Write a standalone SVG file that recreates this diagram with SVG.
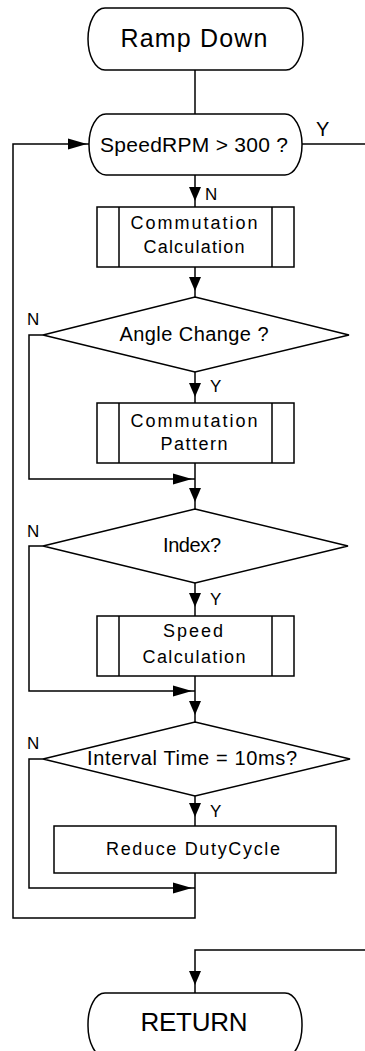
<svg xmlns="http://www.w3.org/2000/svg" xmlns:xlink="http://www.w3.org/1999/xlink" width="365" height="1051" viewBox="0 0 365 1051">
<style>
.s{fill:#fff;stroke:#000;stroke-width:1.5}
.l{fill:none;stroke:#000;stroke-width:1.5}
.t{font-family:"Liberation Sans",Arial,sans-serif;fill:#000;text-anchor:middle}
.lb{font-family:"Liberation Sans",Arial,sans-serif;fill:#000;font-size:17px}
.ah{fill:#000}
</style>
<defs>
<path id="ad" d="M-6,-14 L6,-14 L0,0 Z"/>
<path id="ar" d="M-19,-5.5 L0,0 L-19,5.5 Z"/>
</defs>
<rect width="365" height="1051" fill="#fff"/>
<g id="connectors">
<path class="l" d="M195,70 V114"/>
<path class="l" d="M195,175 V207"/>
<path class="l" d="M195,267 V297"/>
<path class="l" d="M195,372 V403"/>
<path class="l" d="M195,463 V509"/>
<path class="l" d="M43,335 H29 V479 H195"/>
<path class="l" d="M195,583 V616"/>
<path class="l" d="M195,676 V722"/>
<path class="l" d="M43,546 H29 V691 H195"/>
<path class="l" d="M195,796 V826"/>
<path class="l" d="M43,759 H29 V888 H195"/>
<path class="l" d="M195,873 V918 H13 V144 H89"/>
<path class="l" d="M302,144 H365"/>
<path class="l" d="M365,950 H195 V993"/>
<use class="ah" xlink:href="#ar" x="87" y="144"/>
<use class="ah" xlink:href="#ad" x="195" y="201"/>
<use class="ah" xlink:href="#ad" x="195" y="291"/>
<use class="ah" xlink:href="#ad" x="195" y="397"/>
<use class="ah" xlink:href="#ar" x="192" y="479"/>
<use class="ah" xlink:href="#ad" x="195" y="502"/>
<use class="ah" xlink:href="#ad" x="195" y="607"/>
<use class="ah" xlink:href="#ar" x="192" y="691"/>
<use class="ah" xlink:href="#ad" x="195" y="715"/>
<use class="ah" xlink:href="#ad" x="195" y="817"/>
<use class="ah" xlink:href="#ar" x="192" y="888"/>
<use class="ah" xlink:href="#ad" x="195" y="985"/>
<text class="lb" x="316" y="136" style="font-size:20px">Y</text>
<text class="lb" x="205" y="200">N</text>
<text class="lb" x="27" y="325">N</text>
<text class="lb" x="210" y="392">Y</text>
<text class="lb" x="27" y="537">N</text>
<text class="lb" x="210" y="605">Y</text>
<text class="lb" x="27" y="749">N</text>
<text class="lb" x="210" y="817">Y</text>
</g>
<g id="start">
<rect class="s" x="88" y="8" width="215" height="62" rx="17" ry="31"/>
<text class="t" x="194" y="47" font-size="25" textLength="147" lengthAdjust="spacing">Ramp Down</text>
</g>
<g id="speed-check">
<rect class="s" x="89" y="114" width="213" height="61" rx="17" ry="30"/>
<text class="t" x="194" y="152" font-size="21" textLength="188" lengthAdjust="spacing">SpeedRPM &gt; 300 ?</text>
</g>
<g id="comm-calc">
<rect class="s" x="97" y="207" width="197" height="60"/>
<path class="l" d="M119,207 V267 M272,207 V267"/>
<text class="t" x="194" y="229" font-size="18" textLength="127" lengthAdjust="spacing">Commutation</text>
<text class="t" x="194" y="253" font-size="18" textLength="101" lengthAdjust="spacing">Calculation</text>
</g>
<g id="angle-change">
<polygon class="s" points="195,297 349,335 195,372 43,335"/>
<text class="t" x="194" y="341" font-size="20" textLength="149" lengthAdjust="spacing">Angle Change ?</text>
</g>
<g id="comm-pattern">
<rect class="s" x="97" y="403" width="197" height="60"/>
<path class="l" d="M119,403 V463 M272,403 V463"/>
<text class="t" x="194" y="427" font-size="18" textLength="127" lengthAdjust="spacing">Commutation</text>
<text class="t" x="194" y="450" font-size="18" textLength="67" lengthAdjust="spacing">Pattern</text>
</g>
<g id="index">
<polygon class="s" points="195,509 348,546 195,583 43,546"/>
<text class="t" x="192" y="552" font-size="20" textLength="58" lengthAdjust="spacing">Index?</text>
</g>
<g id="speed-calc">
<rect class="s" x="97" y="616" width="197" height="60"/>
<path class="l" d="M119,616 V676 M272,616 V676"/>
<text class="t" x="193" y="637" font-size="18" textLength="60" lengthAdjust="spacing">Speed</text>
<text class="t" x="194" y="663" font-size="18" textLength="103" lengthAdjust="spacing">Calculation</text>
</g>
<g id="interval">
<polygon class="s" points="195,722 350,759 195,796 43,759"/>
<text class="t" x="192" y="765" font-size="20" textLength="210" lengthAdjust="spacing">Interval Time = 10ms?</text>
</g>
<g id="reduce">
<rect class="s" x="54" y="826" width="282" height="47"/>
<text class="t" x="193" y="855" font-size="18" textLength="174" lengthAdjust="spacing">Reduce DutyCycle</text>
</g>
<g id="return">
<rect class="s" x="88" y="993" width="214" height="64" rx="17" ry="31"/>
<text class="t" x="194" y="1031" font-size="26" textLength="107" lengthAdjust="spacing">RETURN</text>
</g>
</svg>
